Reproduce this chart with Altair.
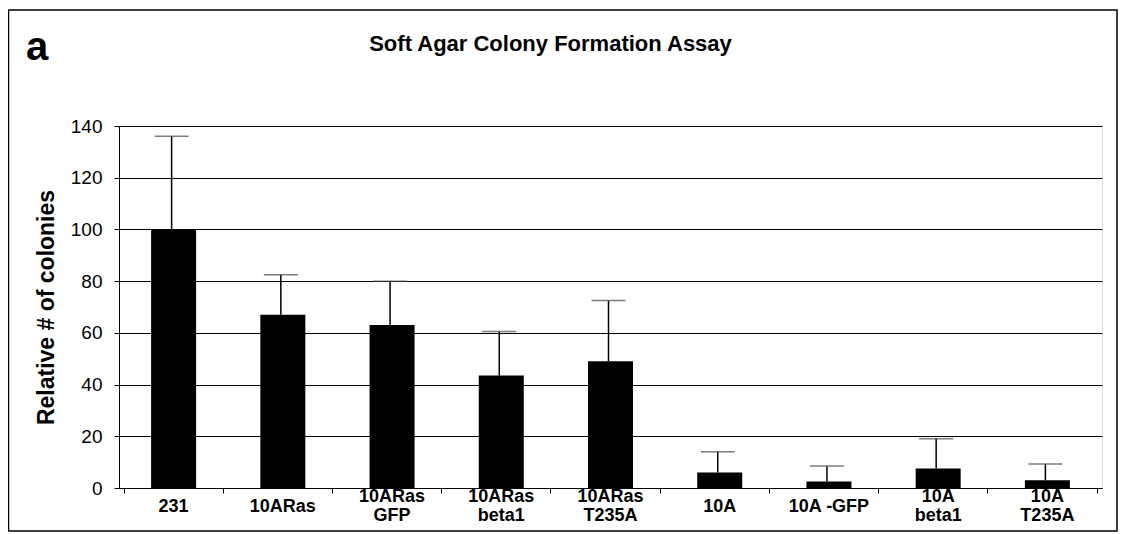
import altair as alt
import pandas as pd

# ---- data ----
categories = ["231", "10ARas", "10ARas\nGFP", "10ARas\nbeta1", "10ARas\nT235A",
              "10A", "10A -GFP", "10A\nbeta1", "10A\nT235A"]
means = [100, 67, 63, 43.5, 49, 6, 2.5, 7.5, 3]
errors = [36, 15.5, 17, 17, 23.5, 8, 6, 11.5, 6.3]
y_ticks = [0, 20, 40, 60, 80, 100, 120, 140]
title_text = "Soft Agar Colony Formation Assay"
panel_text = "a"

FONT = "Liberation Sans"

df = pd.DataFrame({"category": categories, "mean": means, "err": errors})
df["top"] = df["mean"] + df["err"]
df["line1"] = [c.split("\n")[0] for c in categories]
df["line2"] = [c.split("\n")[1] if "\n" in c else "" for c in categories]
df["nlines"] = [len(c.split("\n")) for c in categories]

x_enc = alt.X(
    "category:N", sort=None, title=None,
    axis=alt.Axis(
        labels=False, tickBand="extent", tickSize=5, tickColor="black",
        domainColor="black", grid=False,
    ),
)
y_scale = alt.Scale(domain=[0, 140], nice=False)

base = alt.Chart(df).encode(x=x_enc)

bars = base.mark_bar(size=45, color="black").encode(
    y=alt.Y(
        "mean:Q", scale=y_scale, title="Relative # of colonies",
        axis=alt.Axis(
            values=y_ticks, grid=True, gridColor="black", gridOpacity=1,
            gridWidth=1, tickSize=5, tickColor="black", domainColor="black",
            labelFont=FONT, labelFontSize=19, labelColor="black",
            labelPadding=12, titleFont=FONT, titleFontSize=23,
            titleFontWeight="bold", titleColor="black", titlePadding=12,
        ),
    )
)

whisker = base.mark_rule(color="black", strokeWidth=1.5, xOffset=-2).encode(
    y=alt.Y("mean:Q", scale=y_scale), y2="top:Q"
)
caps = base.mark_tick(color="#444", size=34, thickness=1.5, xOffset=-2).encode(
    y=alt.Y("top:Q", scale=y_scale)
)

label_style = dict(font=FONT, fontSize=18, fontWeight="bold", color="black",
                   align="center", baseline="middle")
single_labels = base.transform_filter("datum.nlines == 1").mark_text(
    **label_style).encode(text="line1:N", y=alt.value(381))
first_lines = base.transform_filter("datum.nlines == 2").mark_text(
    **label_style).encode(text="line1:N", y=alt.value(371))
second_lines = base.transform_filter("datum.nlines == 2").mark_text(
    **label_style).encode(text="line2:N", y=alt.value(390))

one = pd.DataFrame({"k": [0]})
frame = alt.Chart(one).mark_rect(
    fillOpacity=0, stroke="black", strokeWidth=1.5
).encode(
    x=alt.value(-110.5), x2=alt.value(998), y=alt.value(-116), y2=alt.value(405)
)
panel_letter = alt.Chart(one).mark_text(
    text=panel_text, font=FONT, fontSize=40, fontWeight="bold",
    align="left", baseline="alphabetic", color="black",
).encode(x=alt.value(-93), y=alt.value(-66))
title_mark = alt.Chart(one).mark_text(
    text=title_text, font=FONT, fontSize=22, fontWeight="bold",
    align="center", baseline="alphabetic", color="black",
).encode(x=alt.value(431.5), y=alt.value(-75))

chart = (
    alt.layer(bars, whisker, caps, single_labels, first_lines, second_lines,
              frame, panel_letter, title_mark)
    .properties(
        width=983,
        height=362,
        autosize=alt.AutoSizeParams(type="none"),
        padding={"left": 111, "top": 118, "right": 20, "bottom": 44},
    )
    .configure_view(stroke="black", strokeWidth=1)
    .configure(background="white")
)

chart.save("out.html", embed_options={"renderer": "svg", "actions": False})
